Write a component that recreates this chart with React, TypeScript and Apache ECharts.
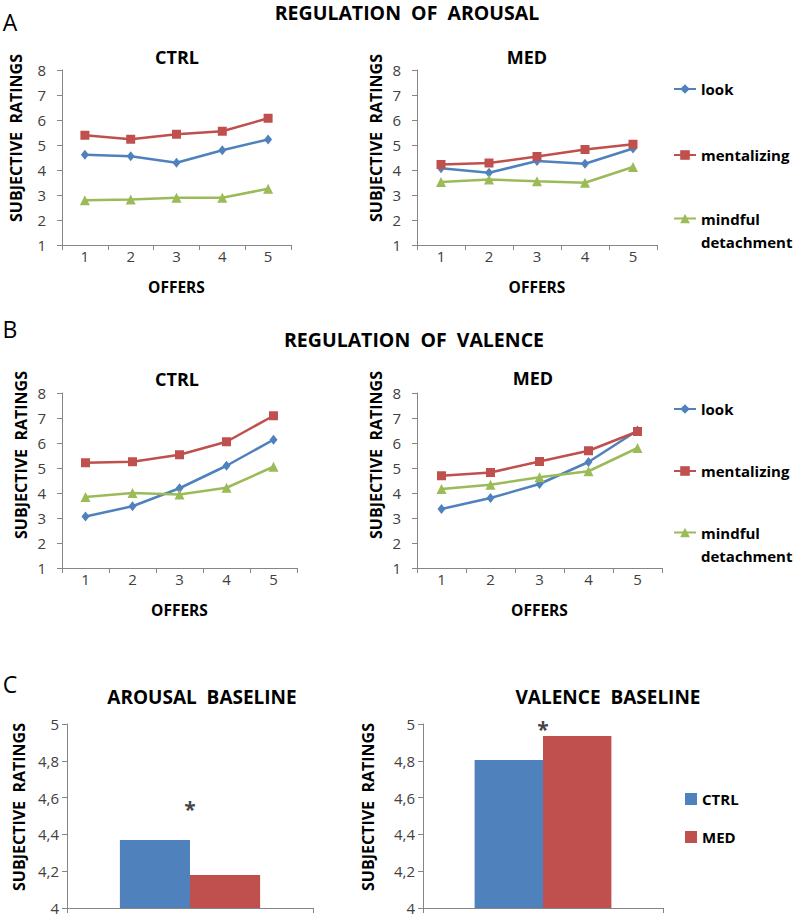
import React, { useEffect, useRef } from 'react';
import * as echarts from 'echarts';

const offers = ['1', '2', '3', '4', '5'];
const lineNames = ['look', 'mentalizing', 'mindful detachment'];
const groupNames = ['CTRL', 'MED'];
const baselineCategory = ['baseline'];

// Regulation of arousal
const arousalCtrlLook = [4.61, 4.55, 4.29, 4.79, 5.22];
const arousalCtrlMent = [5.39, 5.23, 5.43, 5.55, 6.07];
const arousalCtrlMind = [2.79, 2.82, 2.89, 2.89, 3.25];
const arousalMedLook = [4.07, 3.89, 4.36, 4.25, 4.86];
const arousalMedMent = [4.22, 4.28, 4.54, 4.82, 5.03];
const arousalMedMind = [3.52, 3.62, 3.55, 3.49, 4.12];

// Regulation of valence
const valenceCtrlLook = [3.06, 3.47, 4.19, 5.09, 6.13];
const valenceCtrlMent = [5.21, 5.25, 5.53, 6.05, 7.09];
const valenceCtrlMind = [3.84, 4.0, 3.94, 4.21, 5.05];
const valenceMedLook = [3.36, 3.8, 4.36, 5.24, 6.5];
const valenceMedMent = [4.69, 4.82, 5.26, 5.69, 6.46];
const valenceMedMind = [4.16, 4.33, 4.63, 4.87, 5.8];

// Baselines (CTRL, MED)
const arousalBaseline = [4.37, 4.18];
const valenceBaseline = [4.805, 4.935];
// asterisk (significance) heights in data units
const arousalStarY = [4.54];
const valenceStarY = [4.975];

const FONT = '"Open Sans", "Noto Sans", sans-serif';
const BLUE = '#4F81BD';
const RED = '#C0504D';
const GREEN = '#9BBB59';
const AXIS = '#868686';
const LABEL = '#404040';

const lineColors = [BLUE, RED, GREEN];
const lineSymbols = ['diamond', 'rect', 'triangle'];
const lineSymbolSizes = [[8, 10], 9, 10];

const panels = [
  [arousalCtrlLook, arousalCtrlMent, arousalCtrlMind],
  [arousalMedLook, arousalMedMent, arousalMedMind],
  [valenceCtrlLook, valenceCtrlMent, valenceCtrlMind],
  [valenceMedLook, valenceMedMent, valenceMedMind],
];

function buildOption() {
  const grids = [
    { left: 62, top: 70, width: 229, height: 175 },
    { left: 417, top: 70, width: 240, height: 175 },
    { left: 62, top: 393, width: 235, height: 175 },
    { left: 417, top: 393, width: 245, height: 175 },
    { left: 67, top: 724, width: 246, height: 184 },
    { left: 423, top: 724, width: 240, height: 184 },
  ];

  const xAxes: any[] = [];
  const yAxes: any[] = [];
  for (let i = 0; i < 4; i++) {
    xAxes.push({
      type: 'category',
      gridIndex: i,
      data: offers,
      boundaryGap: true,
      axisLine: { lineStyle: { color: AXIS, width: 1 } },
      axisTick: { show: true, length: 5, lineStyle: { color: AXIS } },
      axisLabel: { fontFamily: FONT, fontSize: 15, color: LABEL, margin: 3 },
      name: 'OFFERS',
      nameLocation: 'middle',
      nameGap: 34,
      nameTextStyle: { fontFamily: FONT, fontSize: 15.5, fontWeight: 'bold', color: '#000' },
    });
    yAxes.push({
      type: 'value',
      gridIndex: i,
      min: 1,
      max: 8,
      interval: 1,
      axisLine: { show: true, lineStyle: { color: AXIS, width: 1 } },
      axisTick: { show: true, length: 5, lineStyle: { color: AXIS } },
      splitLine: { show: false },
      axisLabel: { fontFamily: FONT, fontSize: 15, color: LABEL, margin: 16 },
    });
  }
  for (let i = 4; i < 6; i++) {
    xAxes.push({
      type: 'category',
      gridIndex: i,
      data: baselineCategory,
      boundaryGap: true,
      axisLine: { lineStyle: { color: AXIS, width: 1 } },
      axisTick: { show: true, length: 5, lineStyle: { color: AXIS } },
      axisLabel: { show: false },
    });
    yAxes.push({
      type: 'value',
      gridIndex: i,
      min: 4,
      max: 5,
      interval: 0.2,
      axisLine: { show: true, lineStyle: { color: AXIS, width: 1 } },
      axisTick: { show: true, length: 5, lineStyle: { color: AXIS } },
      splitLine: { show: false },
      axisLabel: {
        fontFamily: FONT,
        fontSize: 15,
        color: LABEL,
        margin: 8,
        formatter: (v: number) => String(Math.round(v * 10) / 10).replace('.', ','),
      },
    });
  }

  const series: any[] = [];
  panels.forEach((panel, gi) => {
    panel.forEach((values, si) => {
      series.push({
        type: 'line',
        name: lineNames[si],
        xAxisIndex: gi,
        yAxisIndex: gi,
        data: values,
        symbol: lineSymbols[si],
        symbolSize: lineSymbolSizes[si],
        showSymbol: true,
        lineStyle: { color: lineColors[si], width: 2.5 },
        itemStyle: { color: lineColors[si] },
        z: 2 + si,
      });
    });
  });

  const baselines = [arousalBaseline, valenceBaseline];
  const stars = [arousalStarY, valenceStarY];
  baselines.forEach((vals, bi) => {
    vals.forEach((v, k) => {
      series.push({
        type: 'bar',
        name: groupNames[k],
        xAxisIndex: 4 + bi,
        yAxisIndex: 4 + bi,
        data: [v],
        barGap: '0%',
        barCategoryGap: '43%',
        itemStyle: { color: k === 0 ? BLUE : RED },
      });
    });
    series.push({
      type: 'scatter',
      name: 'significance',
      xAxisIndex: 4 + bi,
      yAxisIndex: 4 + bi,
      data: [[baselineCategory[0], stars[bi][0]]],
      symbol: 'circle',
      symbolSize: 1,
      itemStyle: { color: 'rgba(0,0,0,0)' },
      label: {
        show: true,
        position: 'inside',
        formatter: '*',
        fontFamily: FONT,
        fontSize: 21,
        fontWeight: 'bold',
        color: '#111',
      },
      z: 5,
    });
  });

  const legendCommon = {
    orient: 'vertical',
    padding: 0,
    itemWidth: 22,
    itemHeight: 12,
    selectedMode: false,
    textStyle: { fontFamily: FONT, fontSize: 15, fontWeight: 'bold', color: '#000', lineHeight: 23 },
  };
  // an empty first line keeps the icon level with "mindful"
  const mindLegend = (top: number) => ({
    ...legendCommon,
    data: [lineNames[2]],
    left: 673,
    top,
    formatter: () => ' \nmindful\ndetachment',
  });
  const legends: any[] = [
    { ...legendCommon, data: [lineNames[0]], left: 673, top: 77.5 },
    { ...legendCommon, data: [lineNames[1]], left: 673, top: 143.5 },
    mindLegend(184),
    { ...legendCommon, data: [lineNames[0]], left: 673, top: 397.5 },
    { ...legendCommon, data: [lineNames[1]], left: 673, top: 459.5 },
    mindLegend(498),
    {
      ...legendCommon,
      data: groupNames,
      icon: 'rect',
      itemWidth: 12,
      itemHeight: 12,
      itemGap: 15,
      left: 685,
      top: 787.5,
    },
  ];

  const txt = (text: string, x: number, y: number, size: number, bold = true, rotate = 0) => ({
    type: 'text',
    x,
    y,
    rotation: rotate,
    style: {
      text,
      fontFamily: FONT,
      fontSize: size,
      fontWeight: bold ? 'bold' : 'normal',
      fill: '#000',
      align: 'center',
      verticalAlign: 'middle',
    },
  });
  const R = Math.PI / 2;
  const graphic: any[] = [
    txt('A', 10, 22, 23, false),
    txt('B', 10, 329, 23, false),
    txt('C', 10, 684, 23, false),
    txt('REGULATION  OF  AROUSAL', 407, 12, 19.5),
    txt('REGULATION  OF  VALENCE', 414, 339, 19.5),
    txt('CTRL', 177, 57, 18),
    txt('MED', 527, 57, 18),
    txt('CTRL', 177, 379, 18),
    txt('MED', 533, 378, 18),
    txt('AROUSAL  BASELINE', 202, 697, 19),
    txt('VALENCE  BASELINE', 608, 697, 19),
    txt('SUBJECTIVE  RATINGS', 16, 138, 16, true, R),
    txt('SUBJECTIVE  RATINGS', 376, 138, 16, true, R),
    txt('SUBJECTIVE  RATINGS', 21, 455, 16, true, R),
    txt('SUBJECTIVE  RATINGS', 376, 455, 16, true, R),
    txt('SUBJECTIVE  RATINGS', 19, 807, 16, true, R),
    txt('SUBJECTIVE  RATINGS', 368, 807, 16, true, R),
  ];

  return {
    animation: false,
    backgroundColor: '#ffffff',
    grid: grids,
    xAxis: xAxes,
    yAxis: yAxes,
    series,
    legend: legends,
    graphic,
  };
}

export default function App() {
  const ref = useRef<HTMLDivElement>(null);
  useEffect(() => {
    if (!ref.current) return;
    const chart = echarts.init(ref.current, null, { renderer: 'svg' });
    chart.setOption(buildOption() as any);
    return () => chart.dispose();
  }, []);
  return (
    <div
      ref={ref}
      style={{ position: 'fixed', left: 0, top: 0, width: 798, height: 917, background: '#fff' }}
    />
  );
}
